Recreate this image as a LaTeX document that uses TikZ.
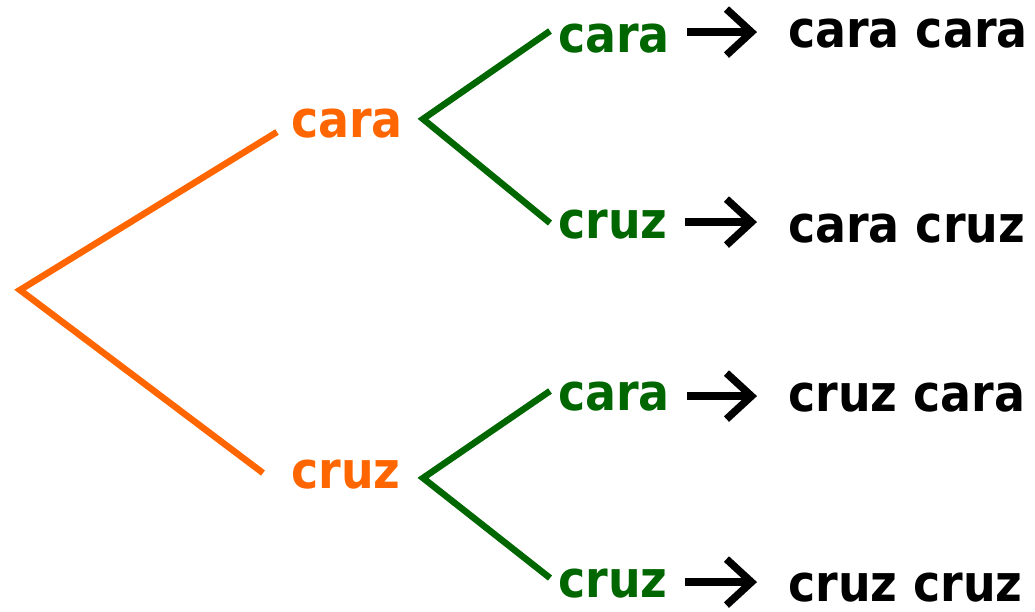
\documentclass[tikz,border=0pt]{standalone}
\usepackage{fontspec}
\setmainfont{DejaVu Sans Condensed}
\usetikzlibrary{arrows.meta}
\definecolor{treeorange}{RGB}{255,102,0}
\definecolor{treegreen}{RGB}{0,102,0}
\begin{document}
\begin{tikzpicture}[x=1pt,y=-1pt,
  lbl/.style={inner sep=0pt,anchor=base west,font=\bfseries\fontsize{51}{60}\selectfont},
  olbl/.style={lbl,text=treeorange},
  glbl/.style={lbl,text=treegreen},
  blbl/.style={lbl,text=black},
  obranch/.style={draw=treeorange,line width=6.5pt,line join=miter},
  gbranch/.style={draw=treegreen,line width=6.5pt,line join=miter},
  arr/.style={draw=black,line width=7.5pt,-{Straight Barb[length=25pt,width=46pt,line width=7.5pt]}}]
\useasboundingbox (0,0) rectangle (1035,611);
% first level
\coordinate (root) at (20,290);
\node[olbl] (oCara) at (291,137) {cara};
\node[olbl] (oCruz) at (291,488) {cruz};
\coordinate (oe1) at (277,132);
\coordinate (oe2) at (263,473);
\draw[obranch] (oe1) -- (root) -- (oe2);
% second level
\coordinate (vA) at (423,119);
\coordinate (vB) at (423,478);
\coordinate (ge1) at (550,31);
\coordinate (ge2) at (550,223);
\coordinate (ge3) at (550,391);
\coordinate (ge4) at (550,578);
\draw[gbranch] (ge1) -- (vA) -- (ge2);
\draw[gbranch] (ge3) -- (vB) -- (ge4);
\node[glbl] (g1) at (558,52) {cara};
\node[glbl] (g2) at (558,238) {cruz};
\node[glbl] (g3) at (558,410) {cara};
\node[glbl] (g4) at (558,597) {cruz};
% results
\node[blbl] (b1) at (788,47) {cara cara};
\node[blbl] (b2) at (788,242) {cara cruz};
\node[blbl] (b3) at (788,411) {cruz cara};
\node[blbl] (b4) at (788,601) {cruz cruz};
% arrows
\draw[arr] ([xshift=17pt,yshift=6pt]g1.east) -- ([xshift=-31pt,yshift=6pt]b1.west |- g1.east);
\draw[arr] ([xshift=17pt,yshift=2pt]g2.east) -- ([xshift=-31pt,yshift=2pt]b2.west |- g2.east);
\draw[arr] ([xshift=17pt]g3.east) -- ([xshift=-31pt]b3.west |- g3.east);
\draw[arr] ([xshift=17pt,yshift=1pt]g4.east) -- ([xshift=-31pt,yshift=1pt]b4.west |- g4.east);
\end{tikzpicture}
\end{document}
